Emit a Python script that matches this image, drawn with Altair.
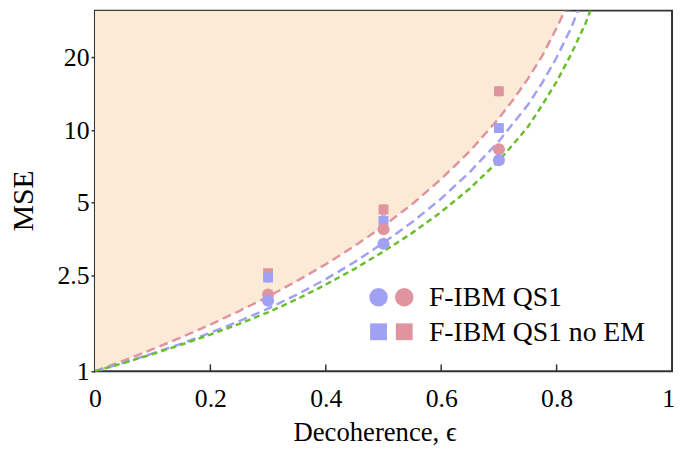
import altair as alt
import pandas as pd

FONT = "Liberation Serif"
Y_TOP = 31.3

# Bound curves
eps_red = [0, 0.05, 0.1, 0.15, 0.2, 0.25, 0.3, 0.35, 0.4, 0.45, 0.5, 0.55, 0.6, 0.65, 0.7, 0.725, 0.75, 0.775, 0.8, 0.825]
mse_red = [1.0, 1.108, 1.235, 1.384, 1.563, 1.778, 2.04, 2.37, 2.78, 3.31, 4.0, 4.94, 6.27, 8.2, 11.2, 13.4, 16.3, 20.3, 26.5, 35.6]

eps_blue = [0, 0.05, 0.1, 0.15, 0.2, 0.25, 0.3, 0.35, 0.4, 0.45, 0.5, 0.55, 0.6, 0.65, 0.7, 0.725, 0.75, 0.775, 0.8, 0.825, 0.85]
mse_blue = [1.0, 1.086, 1.186, 1.303, 1.445, 1.614, 1.82, 2.08, 2.41, 2.84, 3.41, 4.16, 5.2, 6.72, 9.0, 10.7, 12.7, 15.7, 20.0, 26.5, 37.5]

eps_green = [0, 0.05, 0.1, 0.15, 0.2, 0.25, 0.3, 0.35, 0.4, 0.45, 0.5, 0.55, 0.6, 0.65, 0.7, 0.725, 0.75, 0.775, 0.8, 0.825, 0.85, 0.875]
mse_green = [1.0, 1.083, 1.179, 1.29, 1.42, 1.573, 1.757, 1.99, 2.29, 2.66, 3.14, 3.75, 4.58, 5.74, 7.47, 8.75, 10.3, 12.7, 15.9, 20.6, 27.7, 39.7]

# Measured points
eps_points = [0.3, 0.5, 0.7]
blue_circle = [1.96, 3.38, 7.51]
blue_circle_err = [0.08, 0.12, 0.25]
red_circle = [2.08, 3.88, 8.33]
red_circle_err = [0.08, 0.12, 0.35]
blue_square = [2.45, 4.20, 10.2]
blue_square_err = [0.1, 0.22, 0.4]
red_square = [2.55, 4.69, 14.5]
red_square_err = [0.1, 0.2, 0.6]

x_ticks = [0, 0.2, 0.4, 0.6, 0.8, 1]
y_ticks = [1, 2.5, 5, 10, 20]
inner_ticks = [0.2, 0.4, 0.6, 0.8]

legend_labels = ["F-IBM QS1", "F-IBM QS1 no EM"]

RED = "#E0949E"
BLUE = "#A0A1F5"
GREEN = "#6BBE2E"
FILL = "#FAEAD6"

xs = alt.Scale(domain=[0, 1], nice=False, zero=False)
ys = alt.Scale(type="log", domain=[1, Y_TOP], nice=False)

x_axis = alt.Axis(values=x_ticks, format="~g", title="Decoherence, ϵ", domain=False,
                  ticks=False, tickSize=0, grid=False, labelFlush=False, labelOverlap=False,
                  labelOffset={"expr": "datum.value == 1 ? -4 : 0"},
                  labelFont=FONT, labelFontSize=26, labelColor="black", labelPadding=15,
                  titleFont=FONT, titleFontSize=27, titleFontWeight="normal", titleColor="black",
                  titleX=283, titleY=70, titleBaseline="alphabetic", titleAlign="center")
y_axis = alt.Axis(values=y_ticks, format="~g", title="MSE", domain=False,
                  ticks=True, tickSize=4, tickColor="#333333", tickWidth=1.5, grid=False,
                  labelOverlap=False, labelFont=FONT, labelFontSize=26, labelColor="black",
                  labelPadding=2, titleFont=FONT, titleFontSize=30, titleFontWeight="normal",
                  titleColor="black", titleX=-72, titleY=192, titleAngle=-90,
                  titleAlign="center", titleBaseline="middle")

X = alt.X("eps:Q", scale=xs, axis=x_axis)
Y = alt.Y("mse:Q", scale=ys, axis=y_axis)

df_red = pd.DataFrame({"eps": eps_red, "mse": mse_red})
df_blue = pd.DataFrame({"eps": eps_blue, "mse": mse_blue})
df_green = pd.DataFrame({"eps": eps_green, "mse": mse_green})

area = alt.Chart(df_red).mark_area(color=FILL, clip=True, opacity=1).encode(
    x=X, y=Y, y2=alt.datum(Y_TOP))

line_red = alt.Chart(df_red).mark_line(color=RED, strokeWidth=2.5, strokeDash=[9, 5], clip=True).encode(x=X, y=Y)
line_blue = alt.Chart(df_blue).mark_line(color=BLUE, strokeWidth=2.5, strokeDash=[9, 5], clip=True).encode(x=X, y=Y)
line_green = alt.Chart(df_green).mark_line(color=GREEN, strokeWidth=2.5, strokeDash=[6, 4], clip=True).encode(x=X, y=Y)


def series(vals, errs):
    return pd.DataFrame({
        "eps": eps_points,
        "mse": vals,
        "lo": [v - e for v, e in zip(vals, errs)],
        "hi": [v + e for v, e in zip(vals, errs)],
    })


def err_layer(df, color):
    return alt.Chart(df).mark_errorbar(ticks=True, color=color, opacity=0.7, thickness=1.5).encode(
        x=X, y=alt.Y("lo:Q", scale=ys, axis=y_axis), y2="hi:Q")


def pt_layer(df, color, shape, size):
    return alt.Chart(df).mark_point(filled=True, shape=shape, size=size, color=color, opacity=1).encode(x=X, y=Y)


d_bc = series(blue_circle, blue_circle_err)
d_rc = series(red_circle, red_circle_err)
d_bs = series(blue_square, blue_square_err)
d_rs = series(red_square, red_square_err)

errs = [err_layer(d_rs, RED), err_layer(d_bs, BLUE), err_layer(d_rc, RED), err_layer(d_bc, BLUE)]
pts = [pt_layer(d_rs, RED, "square", 100), pt_layer(d_bs, BLUE, "square", 100),
       pt_layer(d_rc, RED, "circle", 150), pt_layer(d_bc, BLUE, "circle", 150)]

tick_df = pd.DataFrame({"eps": inner_ticks})
inner = alt.Chart(tick_df).mark_rule(color="#333333", strokeWidth=1.5).encode(
    x=X, y=alt.value(358), y2=alt.value(365))

one = pd.DataFrame({"a": [0]})
leg = [
    alt.Chart(one).mark_point(filled=True, shape="circle", size=350, color=BLUE, opacity=1).encode(x=alt.value(287), y=alt.value(290)),
    alt.Chart(one).mark_point(filled=True, shape="circle", size=350, color=RED, opacity=1).encode(x=alt.value(313), y=alt.value(290)),
    alt.Chart(one).mark_point(filled=True, shape="square", size=290, color=BLUE, opacity=1).encode(x=alt.value(287), y=alt.value(325)),
    alt.Chart(one).mark_point(filled=True, shape="square", size=290, color=RED, opacity=1).encode(x=alt.value(313), y=alt.value(325)),
    alt.Chart(one).mark_text(text=legend_labels[0], align="left", baseline="alphabetic", font=FONT, fontSize=28, color="black").encode(x=alt.value(338), y=alt.value(299)),
    alt.Chart(one).mark_text(text=legend_labels[1], align="left", baseline="alphabetic", font=FONT, fontSize=28, color="black").encode(x=alt.value(338), y=alt.value(334)),
]

chart = alt.layer(area, line_red, line_blue, line_green, *errs, *pts, inner, *leg).properties(
    width=584, height=365,
    autosize=alt.AutoSizeParams(type="none"),
    padding={"left": 88, "top": 0, "right": 3, "bottom": 79},
    background="white",
).configure_view(stroke="#333333", strokeWidth=2)

chart.save("out.html", embed_options={"renderer": "svg", "actions": False})
